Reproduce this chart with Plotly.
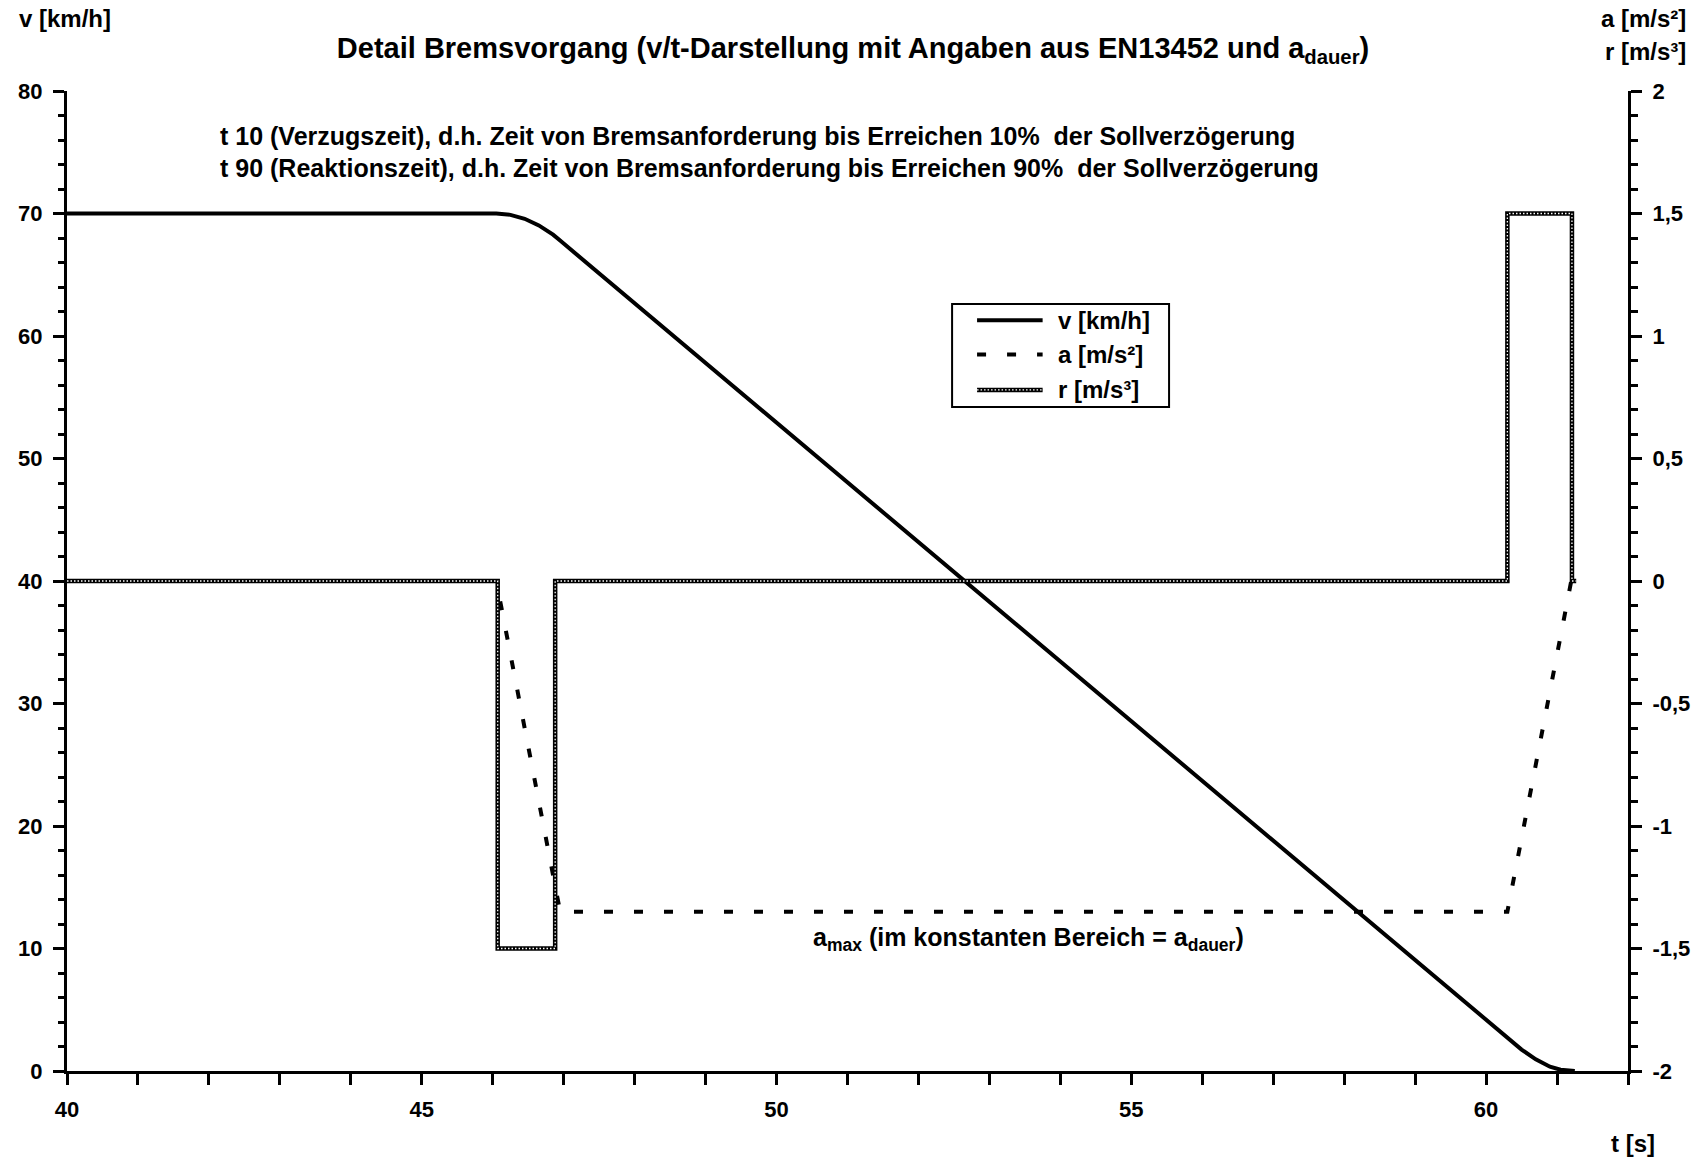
import plotly.graph_objects as go

# ---------------- data ----------------
t_v = [40.0, 46.05, 46.25, 46.45, 46.65, 46.85, 46.95, 48.0, 49.0, 50.0, 51.0, 52.0,
       53.0, 54.0, 55.0, 56.0, 57.0, 58.0, 59.0, 60.0, 60.3, 60.5, 60.7, 60.9, 61.05, 61.25]
v_kmh = [70.0, 70.0, 69.89, 69.57, 69.03, 68.27, 67.79, 62.68, 57.81, 52.94, 48.07, 43.20,
         38.34, 33.47, 28.60, 23.73, 18.86, 14.00, 9.13, 4.26, 2.80, 1.75, 0.95, 0.35, 0.10, 0.0]

t_a = [40.0, 46.05, 46.95, 60.3, 61.2]
a_ms2 = [0.0, 0.0, -1.35, -1.35, 0.0]

t_r = [40.0, 46.07, 46.88, 60.3, 61.21, 61.27]
r_ms3 = [0.0, -1.5, 0.0, 1.5, 0.0, 0.0]

x_tickvals = [40, 45, 50, 55, 60]
y_tickvals = [0, 10, 20, 30, 40, 50, 60, 70, 80]
y2_tickvals = [-2, -1.5, -1, -0.5, 0, 0.5, 1, 1.5, 2]
y2_ticktext = ["-2", "-1,5", "-1", "-0,5", "0", "0,5", "1", "1,5", "2"]

title_text = "Detail Bremsvorgang (v/t-Darstellung mit Angaben aus EN13452 und a<sub>dauer</sub>)"
note1 = "t 10 (Verzugszeit), d.h. Zeit von Bremsanforderung bis Erreichen 10%  der Sollverzögerung"
note2 = "t 90 (Reaktionszeit), d.h. Zeit von Bremsanforderung bis Erreichen 90%  der Sollverzögerung"
amax_text = "a<sub>max</sub> (im konstanten Bereich = a<sub>dauer</sub>)"
legend_names = ["v [km/h]", "a [m/s²]", "r [m/s³]"]

# ---------------- style ----------------
FAM = "Liberation Sans, Arial, sans-serif"
def F(size):
    return dict(family=FAM, size=size, color="black", weight="bold")

fig = go.Figure()
fig.add_trace(go.Scatter(x=t_v, y=v_kmh, mode="lines", name=legend_names[0],
                         line=dict(color="black", width=4), yaxis="y", showlegend=False))
fig.add_trace(go.Scatter(x=t_a, y=a_ms2, mode="lines", name=legend_names[1],
                         line=dict(color="black", width=4, dash="9px,21px"), yaxis="y2",
                         showlegend=False))
fig.add_trace(go.Scatter(x=t_r, y=r_ms3, mode="lines", name=legend_names[2], line_shape="hv",
                         line=dict(color="black", width=4.5), yaxis="y2", showlegend=False))
fig.add_trace(go.Scatter(x=t_r, y=r_ms3, mode="lines", name=legend_names[2] + " ", line_shape="hv",
                         line=dict(color="white", width=1.3, dash="1.5px,2px"), yaxis="y2",
                         showlegend=False, hoverinfo="skip"))

axis_common = dict(showgrid=False, zeroline=False, showline=True, linecolor="black",
                   linewidth=3, ticks="outside", tickcolor="black", tickwidth=2.5)

fig.update_layout(
    width=1702, height=1159,
    margin=dict(l=67, r=74, t=91, b=88),
    paper_bgcolor="white", plot_bgcolor="white",
    showlegend=False,
    title=dict(text=title_text, font=F(29), x=0.5012, xref="container", xanchor="center",
               y=1 - 48 / 1159, yref="container", yanchor="middle"),
    xaxis=dict(range=[40, 62], tickvals=x_tickvals, ticklen=11, tickfont=F(22),
               ticklabelstandoff=6,
               minor=dict(dtick=1, tick0=40, ticks="outside", ticklen=11, tickcolor="black",
                          tickwidth=2.5),
               **axis_common),
    yaxis=dict(range=[0, 80], tickvals=y_tickvals, ticklen=11, tickfont=F(22),
               ticklabelstandoff=6,
               minor=dict(dtick=2, tick0=0, ticks="outside", ticklen=6, tickcolor="black",
                          tickwidth=2.5),
               **axis_common),
    yaxis2=dict(range=[-2, 2], tickvals=y2_tickvals, ticktext=y2_ticktext, ticklen=11,
                tickfont=F(22), overlaying="y", side="right", anchor="x",
                ticklabelstandoff=6,
                minor=dict(dtick=0.1, tick0=0, ticks="outside", ticklen=7, tickcolor="black",
                           tickwidth=2.5),
                **axis_common),
    xaxis3=dict(range=[40, 62], tickvals=x_tickvals, overlaying="x", anchor="y", side="bottom",
                ticks="inside", ticklen=10, tickwidth=2.5, tickcolor="black",
                showticklabels=False, showline=False, showgrid=False, zeroline=False),
    yaxis3=dict(range=[0, 80], tickvals=y_tickvals, overlaying="y", anchor="x", side="left",
                ticks="inside", ticklen=10, tickwidth=2.5, tickcolor="black",
                showticklabels=False, showline=False, showgrid=False, zeroline=False),
    yaxis4=dict(range=[-2, 2], tickvals=y2_tickvals, overlaying="y", anchor="x", side="right",
                ticks="inside", ticklen=10, tickwidth=2.5, tickcolor="black",
                showticklabels=False, showline=False, showgrid=False, zeroline=False),
)

# axis titles and notes
fig.add_annotation(text="v [km/h]", xref="paper", yref="paper", x=-0.032, y=1.0735,
                   xanchor="left", yanchor="middle", showarrow=False, font=F(24))
fig.add_annotation(text="a [m/s²]", xref="paper", yref="paper", x=1.0384, y=1.0735,
                   xanchor="right", yanchor="middle", showarrow=False, font=F(24))
fig.add_annotation(text="r [m/s³]", xref="paper", yref="paper", x=1.0384, y=1.0405,
                   xanchor="right", yanchor="middle", showarrow=False, font=F(24))
fig.add_annotation(text="t [s]", xref="paper", yref="paper", x=1.0186, y=-0.0735,
                   xanchor="right", yanchor="middle", showarrow=False, font=F(24))
fig.add_annotation(text=note1, xref="paper", yref="paper", x=0.097, y=0.954,
                   xanchor="left", yanchor="middle", showarrow=False, font=F(25))
fig.add_annotation(text=note2, xref="paper", yref="paper", x=0.097, y=0.921,
                   xanchor="left", yanchor="middle", showarrow=False, font=F(25))
fig.add_annotation(text=amax_text, xref="paper", yref="paper", x=0.616, y=0.1347,
                   xanchor="center", yanchor="middle", showarrow=False, font=F(25))

# manual legend
lx0, lx1, ly0, ly1 = 0.567, 0.706, 0.6776, 0.7827
fig.add_shape(type="rect", xref="paper", yref="paper", x0=lx0, x1=lx1, y0=ly0, y1=ly1,
              line=dict(color="black", width=2), fillcolor="white", layer="above")
rows = [0.766, 0.731, 0.695]
sx0, sx1, tx = 0.583, 0.625, 0.6336
fig.add_shape(type="line", xref="paper", yref="paper", x0=sx0, x1=sx1, y0=rows[0], y1=rows[0],
              line=dict(color="black", width=4), layer="above")
fig.add_shape(type="line", xref="paper", yref="paper", x0=sx0, x1=sx1, y0=rows[1], y1=rows[1],
              line=dict(color="black", width=4, dash="9px,21px"), layer="above")
fig.add_shape(type="line", xref="paper", yref="paper", x0=sx0, x1=sx1, y0=rows[2], y1=rows[2],
              line=dict(color="black", width=4.5), layer="above")
fig.add_shape(type="line", xref="paper", yref="paper", x0=sx0, x1=sx1, y0=rows[2], y1=rows[2],
              line=dict(color="white", width=1.3, dash="1.5px,2px"), layer="above")
for name, yy in zip(legend_names, rows):
    fig.add_annotation(text=name, xref="paper", yref="paper", x=tx, y=yy, xanchor="left",
                       yanchor="middle", showarrow=False, font=F(24))

# remove the default 8px page margin so the figure fills the window exactly
fig.write_html("out.html",
               config={"displayModeBar": False},
               post_script="document.body.style.margin='0px';document.body.style.overflow='hidden';")
